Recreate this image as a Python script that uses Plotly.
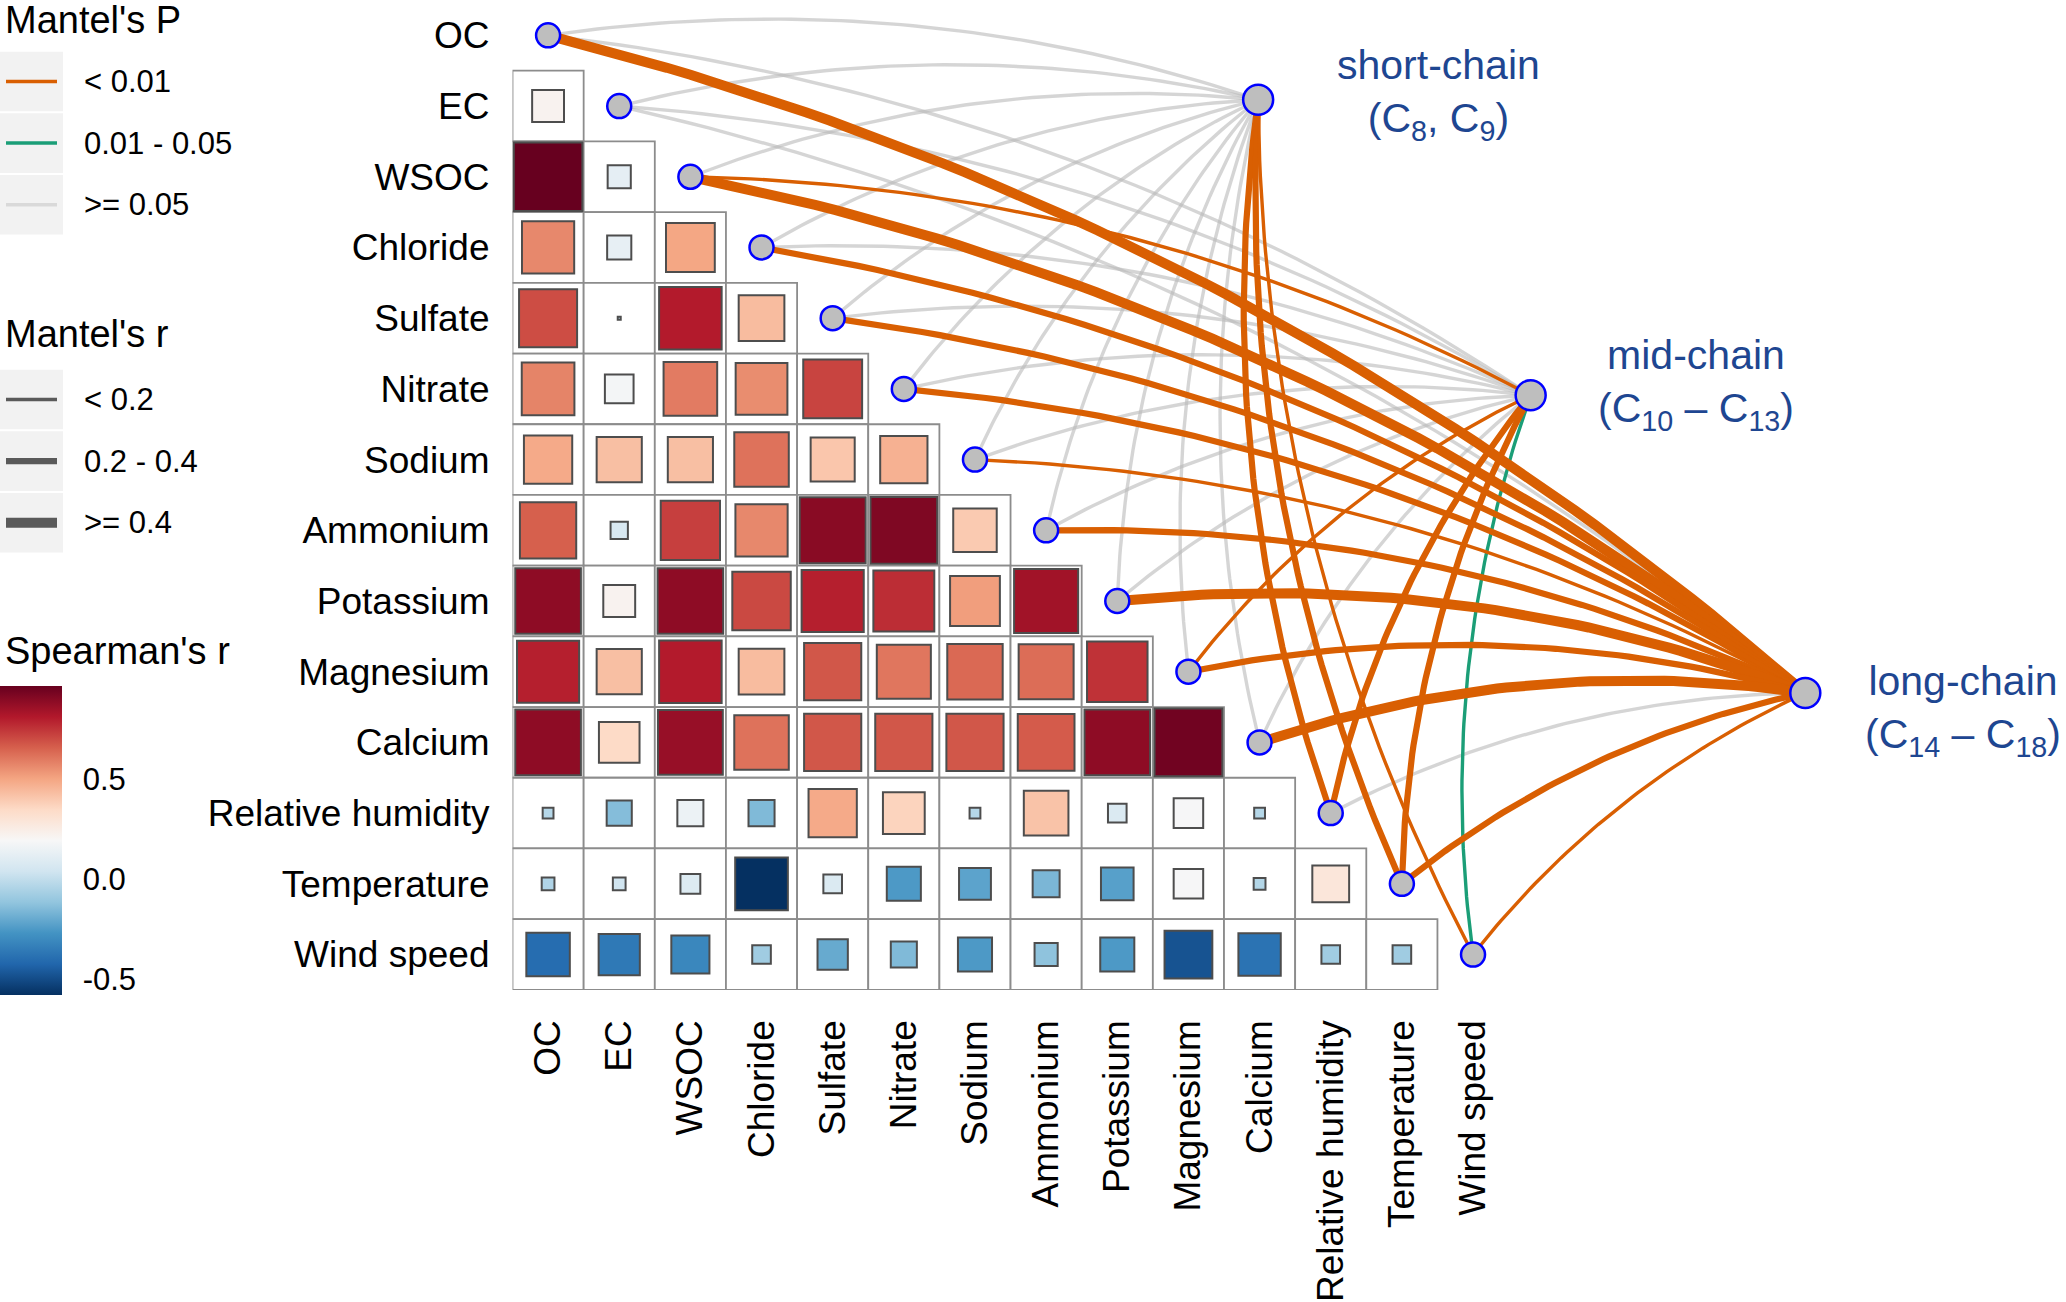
import numpy as np
import plotly.graph_objects as go

# ---------------- data ----------------
variables = ["OC", "EC", "WSOC", "Chloride", "Sulfate", "Nitrate", "Sodium",
             "Ammonium", "Potassium", "Magnesium", "Calcium",
             "Relative humidity", "Temperature", "Wind speed"]

# Spearman's r, lower triangle (row variable vs. earlier column variables)
spearman_lower = [
    [],
    [0.22],
    [0.97, 0.12],
    [0.57, 0.13, 0.50],
    [0.70, 0.004, 0.81, 0.44],
    [0.58, 0.18, 0.60, 0.56, 0.72],
    [0.49, 0.43, 0.43, 0.62, 0.41, 0.47],
    [0.66, 0.07, 0.73, 0.57, 0.90, 0.92, 0.40],
    [0.89, 0.22, 0.89, 0.71, 0.80, 0.77, 0.52, 0.85],
    [0.80, 0.43, 0.81, 0.44, 0.68, 0.61, 0.64, 0.63, 0.76],
    [0.89, 0.35, 0.87, 0.62, 0.68, 0.68, 0.68, 0.67, 0.89, 0.95],
    [-0.03, -0.14, 0.15, -0.15, 0.49, 0.37, -0.03, 0.42, 0.08, 0.19, -0.03],
    [-0.04, 0.04, 0.09, -0.58, 0.08, -0.25, -0.22, -0.16, -0.23, 0.19, -0.035, 0.29],
    [-0.40, -0.36, -0.31, -0.08, -0.20, -0.15, -0.25, -0.12, -0.25, -0.48, -0.38, -0.08, -0.08],
]

hubs = ["short-chain", "mid-chain", "long-chain"]
hub_labels = ["short-chain<br>(C<sub>8</sub>, C<sub>9</sub>)",
              "mid-chain<br>(C<sub>10</sub> \u2013 C<sub>13</sub>)",
              "long-chain<br>(C<sub>14</sub> \u2013 C<sub>18</sub>)"]

p_classes = ["< 0.01", "0.01 - 0.05", ">= 0.05"]
r_classes = ["< 0.2", "0.2 - 0.4", ">= 0.4"]

# Mantel test classes, one entry per variable (same order as `variables`)
mantel_p_short = [">= 0.05"] * 11 + ["< 0.01", "< 0.01", "< 0.01"]
mantel_r_short = ["< 0.2"] * 11 + ["0.2 - 0.4", "0.2 - 0.4", "< 0.2"]

mantel_p_mid = [">= 0.05", ">= 0.05", "< 0.01", ">= 0.05", ">= 0.05", ">= 0.05", ">= 0.05",
                ">= 0.05", ">= 0.05", "< 0.01", ">= 0.05", "< 0.01", "< 0.01", "0.01 - 0.05"]
mantel_r_mid = ["< 0.2", "< 0.2", "< 0.2", "< 0.2", "< 0.2", "< 0.2", "< 0.2",
                "< 0.2", "< 0.2", "< 0.2", "< 0.2", "0.2 - 0.4", "0.2 - 0.4", "< 0.2"]

mantel_p_long = ["< 0.01", ">= 0.05", "< 0.01", "< 0.01", "< 0.01", "< 0.01", "< 0.01",
                 "< 0.01", "< 0.01", "< 0.01", "< 0.01", ">= 0.05", "< 0.01", "< 0.01"]
mantel_r_long = [">= 0.4", "< 0.2", ">= 0.4", "0.2 - 0.4", "0.2 - 0.4", "0.2 - 0.4", "< 0.2",
                 "0.2 - 0.4", ">= 0.4", "0.2 - 0.4", ">= 0.4", "< 0.2", "0.2 - 0.4", "< 0.2"]

mantel_p = [mantel_p_short, mantel_p_mid, mantel_p_long]
mantel_r = [mantel_r_short, mantel_r_mid, mantel_r_long]

colorbar_ticks = [-0.5, 0.0, 0.5]
colorbar_ticktext = ["-0.5", "0.0", "0.5"]

# ---------------- styles / layout constants ----------------
W, H = 2066, 1302
CELL = 71.15                      # px per data unit
GRID_LEFT = 512.5                 # px
GRID_BOTTOM = 996.0               # px
n = len(variables)
hub_pos = [(9.98, 0.91), (13.81, 5.09), (17.67, 9.30)]
hub_label_pos = [(12.52, 0.83), (16.13, 4.94), (19.89, 9.55)]

p_color = {"< 0.01": "#D95F02", "0.01 - 0.05": "#1B9E77", ">= 0.05": "rgba(185,185,185,0.6)"}
r_width = {"< 0.2": 3.4, "0.2 - 0.4": 6.2, ">= 0.4": 10.0}
legend_r_color = "#5A5A5A"

RdBu = ["#053061", "#2166AC", "#4393C3", "#92C5DE", "#D1E5F0", "#F7F7F7",
        "#FDDBC7", "#F4A582", "#D6604D", "#B2182B", "#67001F"]
colorscale = [[k / (len(RdBu) - 1), c] for k, c in enumerate(RdBu)]

FONT = "Arial, Liberation Sans, Helvetica, sans-serif"
HUB_COLOR = "#1E4691"

fig = go.Figure()
shapes = []

# ---------------- correlation grid ----------------
sq_x, sq_y, sq_r = [], [], []
for i, row in enumerate(spearman_lower):
    for j, r in enumerate(row):
        shapes.append(dict(type="rect", xref="x", yref="y",
                           x0=j - 0.5, x1=j + 0.5, y0=i - 0.5, y1=i + 0.5,
                           line=dict(color="#8C8C8C", width=1.8),
                           fillcolor="white", layer="below"))
        sq_x.append(j)
        sq_y.append(i)
        sq_r.append(r)
sq_r = np.array(sq_r)
cmin, cmax = float(sq_r.min()), float(sq_r.max())
sizes = np.sqrt(np.abs(sq_r)) * CELL - 1.5

CB_TOP, CB_LEN, CB_W = 690.0, 309.0, 62
fig.add_trace(go.Scatter(
    x=sq_x, y=sq_y, mode="markers", hoverinfo="skip", showlegend=False,
    marker=dict(symbol="square", size=sizes, color=sq_r, colorscale=colorscale,
                cmin=cmin, cmax=cmax, opacity=1,
                line=dict(color="#4D4D4D", width=2),
                showscale=True,
                colorbar=dict(x=0, xanchor="left", y=1 - CB_TOP / H, yanchor="top",
                              len=CB_LEN, lenmode="pixels", thickness=CB_W,
                              outlinewidth=0, xpad=0, ypad=0,
                              tickvals=colorbar_ticks, ticktext=colorbar_ticktext,
                              ticks="outside", ticklen=15, tickwidth=2, tickcolor="white",
                              tickfont=dict(family=FONT, size=31, color="black")))))

# white tick marks drawn inside the colour bar (both edges)
for v in colorbar_ticks:
    ypx = CB_TOP + (cmax - v) / (cmax - cmin) * CB_LEN
    for xa, xb in [(0, 12), (CB_W - 12, CB_W)]:
        shapes.append(dict(type="line", xref="paper", yref="paper",
                           x0=xa / W, x1=xb / W, y0=1 - ypx / H, y1=1 - ypx / H,
                           line=dict(color="white", width=2), layer="above"))


# ---------------- Mantel edges ----------------
def bezier(x0, y0, x1, y1, c=0.12, npts=60):
    dx, dy = x1 - x0, y1 - y0
    cx = (x0 + x1) / 2 + c * dy
    cy = (y0 + y1) / 2 - c * dx
    t = np.linspace(0, 1, npts)
    bx = (1 - t) ** 2 * x0 + 2 * (1 - t) * t * cx + t ** 2 * x1
    by = (1 - t) ** 2 * y0 + 2 * (1 - t) * t * cy + t ** 2 * y1
    return bx, by


edges = []
for h in range(len(hubs)):
    for k in range(n):
        edges.append((h, k, mantel_p[h][k], mantel_r[h][k]))
order = {">= 0.05": 0, "0.01 - 0.05": 1, "< 0.01": 2}
edges.sort(key=lambda e: order[e[2]])
for h, k, p, r in edges:
    hx, hy = hub_pos[h]
    bx, by = bezier(k, k, hx, hy)
    fig.add_trace(go.Scatter(x=bx, y=by, mode="lines", hoverinfo="skip", showlegend=False,
                             line=dict(color=p_color[p], width=r_width[r])))

# diagonal nodes
fig.add_trace(go.Scatter(x=list(range(n)), y=list(range(n)), mode="markers",
                         hoverinfo="skip", showlegend=False,
                         marker=dict(symbol="circle", size=24, color="#BEBEBE", opacity=1,
                                     line=dict(color="#0000FF", width=2.5))))
# hub nodes
fig.add_trace(go.Scatter(x=[p[0] for p in hub_pos], y=[p[1] for p in hub_pos], mode="markers",
                         hoverinfo="skip", showlegend=False,
                         marker=dict(symbol="circle", size=30, color="#BEBEBE", opacity=1,
                                     line=dict(color="#0000FF", width=2.5))))

annotations = []
for (lx, ly), txt in zip(hub_label_pos, hub_labels):
    annotations.append(dict(x=lx, y=ly, xref="x", yref="y", text=txt, showarrow=False,
                            xanchor="center", yanchor="middle", align="center",
                            font=dict(family=FONT, size=41, color=HUB_COLOR)))


# ---------------- manual legends ----------------
def px_x(v):
    return v / W


def px_y(v):
    return 1 - v / H


def legend_block(title, title_y, centers, labels, colors, widths):
    annotations.append(dict(x=px_x(3), y=px_y(title_y), xref="paper", yref="paper",
                            text=title, showarrow=False, xanchor="left", yanchor="middle",
                            font=dict(family=FONT, size=38, color="black")))
    for cy, lab, col, wd in zip(centers, labels, colors, widths):
        shapes.append(dict(type="rect", xref="paper", yref="paper",
                           x0=px_x(0), x1=px_x(63), y0=px_y(cy - 30), y1=px_y(cy + 30),
                           fillcolor="#F2F2F2", line=dict(width=0), layer="below"))
        shapes.append(dict(type="line", xref="paper", yref="paper",
                           x0=px_x(6), x1=px_x(57), y0=px_y(cy), y1=px_y(cy),
                           line=dict(color=col, width=wd), layer="above"))
        annotations.append(dict(x=px_x(82), y=px_y(cy), xref="paper", yref="paper",
                                text=lab, showarrow=False, xanchor="left", yanchor="middle",
                                font=dict(family=FONT, size=31, color="black")))


legend_block("Mantel's P", 20, [82, 144, 206], p_classes,
             ["#D95F02", "#1B9E77", "#D9D9D9"], [3.5, 3.5, 3.5])
legend_block("Mantel's r", 336, [402, 464, 526], r_classes,
             [legend_r_color] * 3, [r_width[c] for c in r_classes])
annotations.append(dict(x=px_x(3), y=px_y(655), xref="paper", yref="paper",
                        text="Spearman's r", showarrow=False, xanchor="left", yanchor="middle",
                        font=dict(family=FONT, size=38, color="black")))

x_range = [-0.5, -0.5 + (W - GRID_LEFT) / CELL]
y_range = [n - 0.5, -0.5]

fig.update_layout(
    width=W, height=H, margin=dict(l=0, r=0, t=0, b=0),
    paper_bgcolor="white", plot_bgcolor="white",
    shapes=shapes, annotations=annotations,
    font=dict(family=FONT, color="black"),
    xaxis=dict(domain=[GRID_LEFT / W, 1], range=x_range, showgrid=False, zeroline=False,
               showline=False, tickmode="array", tickvals=list(range(n)), ticktext=variables,
               tickangle=-90, ticks="", ticklabelstandoff=22,
               tickfont=dict(family=FONT, size=37, color="black"), fixedrange=True),
    yaxis=dict(domain=[1 - GRID_BOTTOM / H, 1], range=y_range, showgrid=False, zeroline=False,
               showline=False, tickmode="array", tickvals=list(range(n)), ticktext=variables,
               ticks="", ticklabelstandoff=22,
               tickfont=dict(family=FONT, size=37, color="black"), fixedrange=True),
)

fig.write_html("out.html", config={"displayModeBar": False},
               post_script="document.body.style.margin='0';")
